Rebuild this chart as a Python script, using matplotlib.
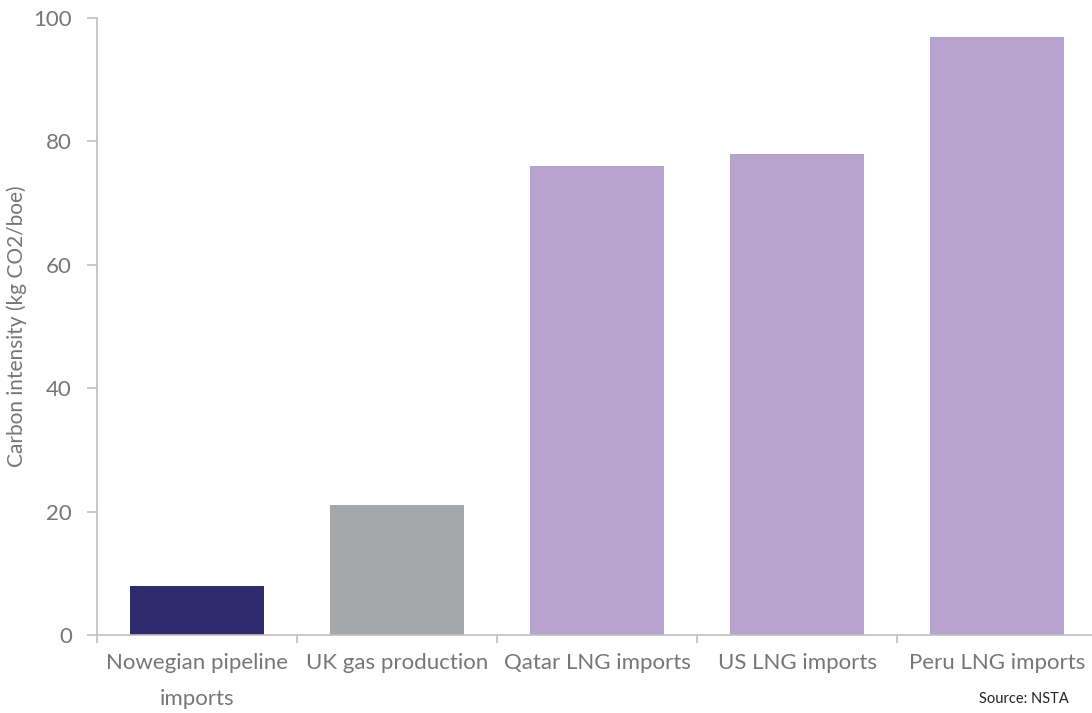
import numpy as np
import matplotlib.pyplot as plt

# Carbon intensity of gas supply sources
categories = ["Nowegian pipeline\nimports", "UK gas production", "Qatar LNG imports",
              "US LNG imports", "Peru LNG imports"]
values = [8, 21, 76, 78, 97]
colors = ["#2E2A6E", "#A6A7AA", "#B8A3CF", "#B8A3CF", "#B8A3CF"]

plt.rcParams['font.family'] = ['Lato', 'DejaVu Sans']
grey_txt = "#767676"
spine_col = "#BFBFBF"

fig = plt.figure(figsize=(10.92, 7.13), dpi=100)
ax = fig.add_axes([97/1092, 78/713, 1000/1092, 617/713])

x = np.arange(len(categories))
ax.bar(x, values, width=0.67, color=colors, zorder=2)

ax.set_xlim(-0.5, 4.5)
ax.set_ylim(0, 100)
ax.set_yticks(np.arange(0, 101, 20))
ax.set_xticks(x)
ax.set_xticklabels(categories, fontsize=16, color=grey_txt, linespacing=2.0)
ax.set_xticks(np.arange(-0.5, 4.6, 1), minor=True)

ax.tick_params(axis='x', which='major', length=0, pad=13)
ax.tick_params(axis='x', which='minor', length=6, color=spine_col, width=1.2)
ax.tick_params(axis='y', length=7, color=spine_col, width=1.2, labelsize=16,
               labelcolor=grey_txt, pad=11)

for s in ['top', 'right']:
    ax.spines[s].set_visible(False)
for s in ['left', 'bottom']:
    ax.spines[s].set_color(spine_col)
    ax.spines[s].set_linewidth(1.2)

ax.set_ylabel("Carbon intensity (kg CO2/boe)", fontsize=15, color=grey_txt)
ax.yaxis.set_label_coords(17/1092, 0.5)
ax.yaxis.label.set_va('center')
ax.yaxis.label.set_transform(
    plt.matplotlib.transforms.blended_transform_factory(fig.transFigure, ax.transAxes))

fig.text(1069/1092, 1 - 699/713, "Source: NSTA", fontsize=10.5, color="#222222",
         ha='right', va='center')

fig.savefig("out.png", dpi=100)
